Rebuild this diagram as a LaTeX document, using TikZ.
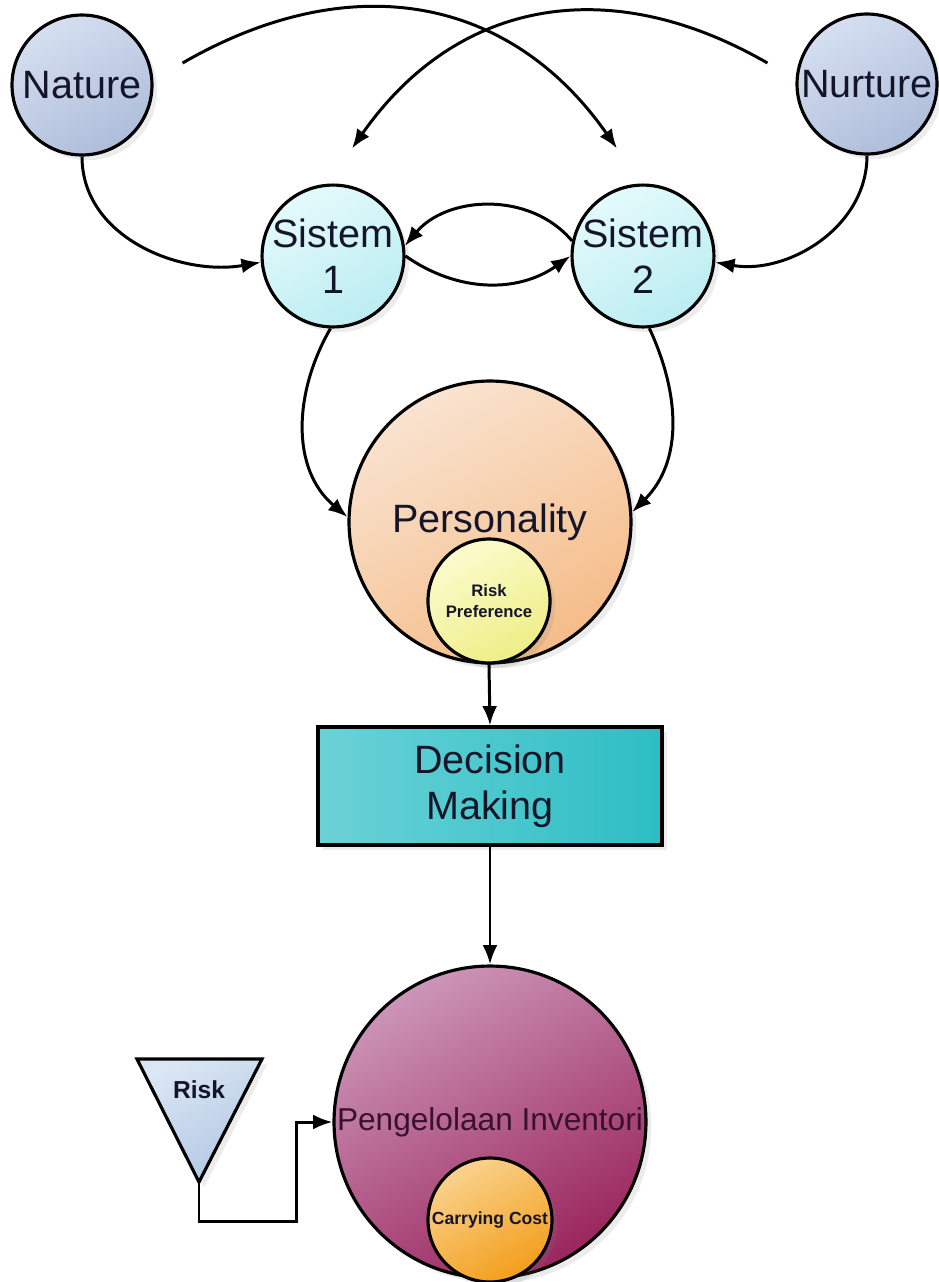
\documentclass[tikz,border=0pt]{standalone}
\usepackage{fontspec}
\setmainfont{Liberation Sans}
\usetikzlibrary{arrows.meta,positioning,calc,shapes.geometric,shadows}
\definecolor{BlueLight}{HTML}{D6DFF1}
\definecolor{BlueDark}{HTML}{AEBDDA}
\definecolor{CyanLight}{HTML}{E4FAFB}
\definecolor{CyanDark}{HTML}{BBEDF2}
\definecolor{PeachLight}{HTML}{F9E3D0}
\definecolor{PeachDark}{HTML}{F5BC88}
\definecolor{YellowLight}{HTML}{FBFBCE}
\definecolor{YellowDark}{HTML}{EEEE86}
\definecolor{TealLight}{HTML}{6BD2D7}
\definecolor{TealDark}{HTML}{2CBEC4}
\definecolor{PlumLight}{HTML}{CC95B8}
\definecolor{PlumDark}{HTML}{9A265E}
\definecolor{OrangeLight}{HTML}{FAD28E}
\definecolor{OrangeDark}{HTML}{F39E1C}
\definecolor{SkyLight}{HTML}{DAE6F4}
\definecolor{SkyDark}{HTML}{B2C8E3}
\definecolor{Ink}{HTML}{15152A}
\definecolor{PlumInk}{HTML}{3A1030}
\tikzset{
 shadowed/.style={drop shadow={shadow xshift=3pt, shadow yshift=-3pt, opacity=0.15}},
 grad/.style 2 args={top color=#1, bottom color=#2, shading angle=30},
 bigfont/.style={font=\fontsize{22.5}{26}\selectfont},
 smallbold/.style={font=\fontsize{9.5}{11.5}\selectfont\bfseries},
 ball/.style={circle, draw=black, line width=1.8pt, inner sep=0pt, align=center, text=Ink, shadowed},
 bluecirc/.style={ball, bigfont, minimum size=2.8cm, grad={BlueLight}{BlueDark}},
 cyancirc/.style={ball, bigfont, minimum size=2.56cm, grad={CyanLight}{CyanDark}},
 peachcirc/.style={ball, bigfont, minimum size=5.64cm, grad={PeachLight}{PeachDark}},
 yellowoval/.style={ball, ellipse, smallbold, minimum width=2.2cm, minimum height=2.48cm, grad={YellowLight}{YellowDark}},
 tealbox/.style={draw=black, line width=1.8pt, bigfont, align=center, text=Ink, minimum width=6.88cm, minimum height=2.36cm, shadowed, left color=TealLight, right color=TealDark},
 plumcirc/.style={ball, font=\fontsize{18}{22}\selectfont, text=PlumInk, minimum size=6.24cm, grad={PlumLight}{PlumDark}},
 orangecirc/.style={ball, font=\fontsize{10}{12}\selectfont\bfseries, minimum size=2.48cm, grad={OrangeLight}{OrangeDark}},
 arrow/.style={-{Latex[length=11pt,width=8.5pt]}, line width=1.7pt}
}
\begin{document}
\begin{tikzpicture}[x=0.02cm,y=-0.02cm]
\useasboundingbox (0,0) rectangle (939,1282);
% top row
\node[bluecirc] (nature) at (82,85) {Nature};
\node[bluecirc] (nurture) at (867,84) {Nurture};
\node[cyancirc] (sis1) at (333,256) {Sistem\\1};
\node[cyancirc] (sis2) at (643,256) {Sistem\\2};
% personality and decision
\node[peachcirc] (pers) at (490,522) {Personality};
\node[yellowoval] (rp) at (489,601) {Risk\\Preference};
\node[tealbox] (dm) at (490,786) {Decision\\Making};
% inventory
\node[plumcirc] (inv) at (490,1122) {Pengelolaan Inventori};
\node[orangecirc] (cc) at (490,1220) {Carrying Cost};
% risk triangle
\path[draw=black, line width=1.8pt, line join=miter, shadowed, grad={SkyLight}{SkyDark}]
 (137,1059) -- (262,1059) -- (199,1182) -- cycle;
\coordinate (riskapex) at (199,1182);
\node[font=\fontsize{14}{16}\selectfont\bfseries, text=Ink] (risk) at (199,1090) {Risk};
% free ends of the crossing arcs
\coordinate (natout) at ([shift={(29,-22)}]nature.east);
\coordinate (nurout) at ([shift={(-28,-21)}]nurture.west);
\coordinate (sis1in) at ([shift={(19,-35)}]sis1.north);
\coordinate (sis2in) at ([shift={(-26,-35)}]sis2.north);
% connectors
\draw[arrow] (nature.south) to[out=-90,in=190] (sis1.185);
\draw[arrow] (nurture.south) to[out=-90,in=-10] (sis2.-5);
\draw[arrow] (natout) to[out=30,in=125,looseness=1.1] (sis2in);
\draw[arrow] (nurout) to[out=150,in=55,looseness=1.1] (sis1in);
\draw[arrow] (sis2.168) to[out=130,in=50] (sis1.8);
\draw[arrow] (sis1.east) to[out=-35,in=-145] (sis2.west);
\draw[arrow] (sis1.-92) to[out=240,in=140] (pers.178);
\draw[arrow] (sis2.-85) to[out=-65,in=45] (pers.4);
\draw[arrow] (rp.south) -- (dm.north);
\draw[arrow] (dm.south) -- (inv.north);
\draw[arrow] (riskapex) -- ++(0,39) -| ([xshift=-0.72cm]inv.west) -- (inv.west);
\end{tikzpicture}
\end{document}
